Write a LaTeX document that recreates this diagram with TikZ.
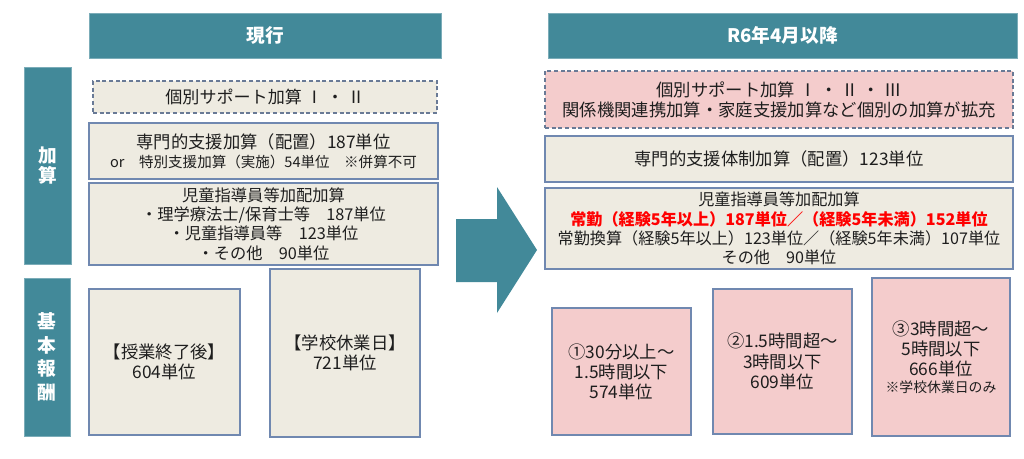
\documentclass[tikz,border=0pt]{standalone}
\usepackage{fontspec}
\setmainfont{Noto Sans CJK JP}
\usetikzlibrary{fit}
\definecolor{tealc}{RGB}{66,137,153}
\definecolor{beige}{RGB}{238,235,225}
\definecolor{bord}{RGB}{112,136,176}
\definecolor{pinkc}{RGB}{244,204,204}
\definecolor{dashc}{RGB}{105,122,150}
\definecolor{txt}{RGB}{30,30,30}
\begin{document}
\begin{tikzpicture}[x=0.75pt,y=-0.75pt,
  hdr/.style={fill=tealc, draw=tealc!70!white, line width=0.6pt, inner sep=0pt},
  bx/.style={fill=beige, draw=bord, line width=0.9pt, inner sep=0pt},
  pbx/.style={bx, fill=pinkc},
  dbx/.style={bx, draw=dashc, dash pattern=on 3pt off 2pt, line width=0.8pt},
  tx/.style={inner sep=0pt, align=center, text=txt, font=\fontsize{13}{15}\selectfont},
  wt/.style={inner sep=0pt, align=center, text=white, font=\bfseries\fontsize{14}{15}\selectfont}
]
\useasboundingbox (0,0) rectangle (1024,458);

% headers
\node[hdr, fit={(89,13) (441,58)}] (h1) {};
\node[wt] (h1t) at (h1.center) {現行};
\node[hdr, fit={(548,13) (1017,58)}] (h2) {};
\node[wt] (h2t) at (h2.center) {R6年4月以降};

% side bars
\node[hdr, fit={(24,67) (71,264)}] (s1) {};
\node[wt, font=\bfseries\fontsize{14}{15}\selectfont] (s1t) at (s1.center) {加\\算};
\node[hdr, fit={(24,278) (70,436)}] (s2) {};
\node[wt, font=\bfseries\fontsize{14}{17.8}\selectfont] (s2t) at (s2.center) {基\\本\\報\\酬};

% left column
\node[dbx, fit={(93,81) (437,113)}] (l1) {};
\node[tx, font=\fontsize{12.8}{15}\selectfont] (l1t) at (l1.center) {個別サポート加算 Ⅰ ・ Ⅱ};
\node[bx, fit={(89,123) (438,179)}] (l2) {};
\node[tx] (l2t) at (l2.center) {専門的支援加算（配置）187単位\\[-1pt]
  {\fontsize{10.9}{13}\selectfont or　特別支援加算（実施）54単位　※併算不可}};
\node[bx, fit={(89,183) (438,265)}] (l3) {};
\node[tx, font=\fontsize{12.2}{14.6}\selectfont] (l3t) at (l3.center) {児童指導員等加配加算\\
  ・理学療法士/保育士等　187単位\\
  ・児童指導員等　123単位\\
  ・その他　90単位};
\node[bx, fit={(89,289) (240,435)}] (l4) {};
\node[tx, font=\fontsize{13}{15}\selectfont] (l4t) at (l4.center) {【授業終了後】\\604単位};
\node[bx, fit={(270,269) (420,437)}] (l5) {};
\node[tx, font=\fontsize{13}{15.5}\selectfont] (l5t) at (l5.center) {【学校休業日】\\721単位};

% big arrow
\fill[tealc] (456,219) -- (497,219) -- (497,187) -- (537,250) -- (497,313) -- (497,282) -- (456,282) -- cycle;

% right column
\node[dbx, fill=pinkc, fit={(545,71) (1013,128)}] (r1) {};
\node[tx] (r1t) at (r1.center) {個別サポート加算 Ⅰ ・ Ⅱ ・ Ⅲ\\
  関係機関連携加算・家庭支援加算など個別の加算が拡充};
\node[bx, fit={(545,136) (1013,182)}] (r2) {};
\node[tx] (r2t) at (r2.center) {専門的支援体制加算（配置）123単位};
\node[bx, fit={(545,188) (1013,269)}] (r3) {};
\node[tx, font=\fontsize{12.1}{14.5}\selectfont] (r3t) at (r3.center) {児童指導員等加配加算\\
  {\color{red}\bfseries 常勤（経験5年以上）187単位／（経験5年未満）152単位}\\
  常勤換算（経験5年以上）123単位／（経験5年未満）107単位\\
  その他　90単位};
\node[pbx, fit={(552,308) (691,435)}] (r4) {};
\node[tx] (r4t) at (r4.center) {①30分以上～\\1.5時間以下\\574単位};
\node[pbx, fit={(713,289) (852,434)}] (r5) {};
\node[tx, font=\fontsize{13}{15.5}\selectfont] (r5t) at (r5.center) {②1.5時間超～\\3時間以下\\609単位};
\node[pbx, fit={(872,278) (1010,436)}] (r6) {};
\node[tx] (r6t) at (r6.center) {③3時間超～\\5時間以下\\666単位\\[-2pt]
  {\fontsize{10.4}{12}\selectfont ※学校休業日のみ}};
\end{tikzpicture}
\end{document}
